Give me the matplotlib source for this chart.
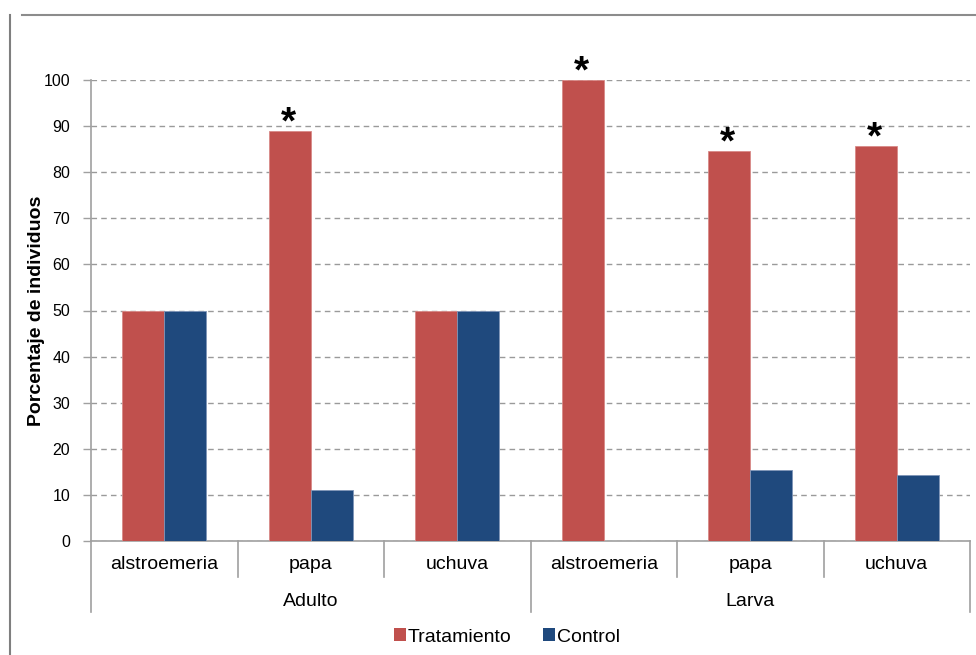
import matplotlib
matplotlib.use("Agg")
import matplotlib.pyplot as plt
from matplotlib.lines import Line2D
from matplotlib.patches import Patch
import numpy as np

plt.rcParams['font.family'] = ['Liberation Sans', 'DejaVu Sans']

# Data
plantas = ["alstroemeria", "papa", "uchuva", "alstroemeria", "papa", "uchuva"]
estadios = ["Adulto", "Larva"]
tratamiento = [50, 88.9, 50, 100, 84.6, 85.7]
control = [50, 11.1, 50, 0, 15.4, 14.3]
significativo = [False, True, False, True, True, True]
yticks = list(range(0, 101, 10))

c_trat = "#C0504D"
c_ctrl = "#1F497D"
c_axis = "#A0A0A0"

fig = plt.figure(figsize=(9.76, 6.55), dpi=100)
ax = fig.add_axes([91 / 976, 1 - 541 / 655, (970 - 91) / 976, (541 - 80) / 655])

x = np.arange(len(plantas))
bw = 0.285
ax.bar(x - bw / 2, tratamiento, bw, color=c_trat, edgecolor="#D88A88", linewidth=0.6, zorder=3)
ax.bar(x + bw / 2, control, bw, color=c_ctrl, edgecolor="#7F95B8", linewidth=0.6, zorder=3)

# significance marks
for xi, v, s in zip(x, tratamiento, significativo):
    if s:
        ax.text(xi - bw / 2 - 0.01, v - 0.6, "*", ha="center", va="baseline", fontsize=28,
                fontweight="bold", color="black", clip_on=False, zorder=4)

ax.set_xlim(-0.5, len(plantas) - 0.5)
ax.set_ylim(0, 100)
ax.set_yticks(yticks)
ax.set_yticklabels([str(t) for t in yticks], fontsize=11.5)
ax.yaxis.grid(True, linestyle=(0, (4, 3)), color="#9A9A9A", linewidth=1.0, zorder=0)
ax.tick_params(axis="y", direction="out", length=6, width=1, color=c_axis, pad=9)
ax.set_xticks([])

for side in ["top", "right"]:
    ax.spines[side].set_visible(False)
ax.spines["left"].set_color(c_axis)
ax.spines["bottom"].set_color(c_axis)
ax.spines["left"].set_linewidth(1.2)
ax.spines["bottom"].set_linewidth(1.2)

ax.set_ylabel("Porcentaje de individuos", fontsize=14, fontweight="bold")
ax.yaxis.set_label_coords(-46 / 879, 0.5)

# hierarchical category axis
trans = ax.get_xaxis_transform()
bounds = np.arange(len(plantas) + 1) - 0.5
for b in bounds:
    long_line = b in (-0.5, 2.5, len(plantas) - 0.5)
    y_end = -0.154 if long_line else -0.078
    ax.add_line(Line2D([b, b], [0, y_end], transform=trans, color=c_axis,
                       linewidth=1.2, clip_on=False))
for xi, p in zip(x, plantas):
    ax.text(xi, -0.052, p, transform=trans, ha="center", va="center", fontsize=14)
for gi, g in enumerate(estadios):
    ax.text(gi * 3 + 1, -0.132, g, transform=trans, ha="center", va="center", fontsize=14)

# legend
handles = [Patch(facecolor=c_trat, edgecolor="none", label="Tratamiento"),
           Patch(facecolor=c_ctrl, edgecolor="none", label="Control")]
fig.legend(handles=handles, loc="center", bbox_to_anchor=(507 / 976, 1 - 637 / 655),
           ncol=2, frameon=False, fontsize=14, handlelength=0.6, handleheight=0.6,
           handletextpad=0.1, columnspacing=1.6)

# outer frame lines
fig.add_artist(Line2D([9.5 / 976, 9.5 / 976], [1 - 15 / 655, 0], transform=fig.transFigure,
                      color="#7F7F7F", linewidth=1.5))
fig.add_artist(Line2D([22 / 976, 1], [1 - 15 / 655, 1 - 15 / 655], transform=fig.transFigure,
                      color="#8C8C8C", linewidth=1.5))

fig.savefig("out.png", dpi=100)
